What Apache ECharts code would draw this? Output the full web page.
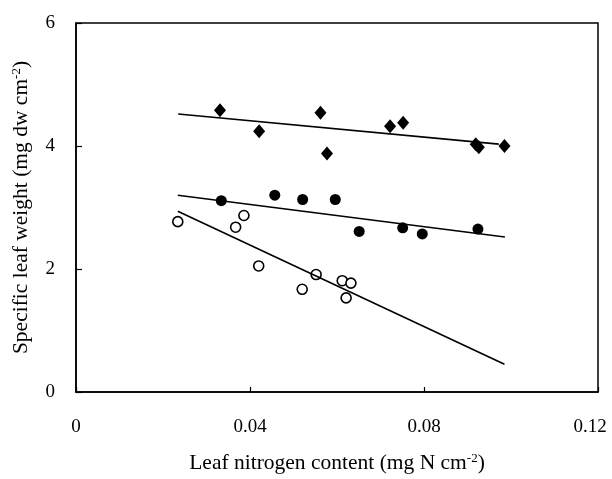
<!DOCTYPE html>
<html>
<head>
<meta charset="utf-8">
<script src="https://cdn.jsdelivr.net/npm/echarts@6/dist/echarts.min.js"></script>
<style>
  html, body { margin: 0; padding: 0; background: #fff; }
  #main { width: 612px; height: 479px; }
</style>
</head>
<body>
<div id="main"></div>
<script>
// data
var diamondX = [0.0331, 0.0421, 0.0562, 0.0577, 0.0722, 0.0752, 0.0919, 0.0926, 0.0985];
var diamondY = [4.58, 4.24, 4.54, 3.88, 4.32, 4.38, 4.03, 3.98, 4.00];
var filledX = [0.0334, 0.0457, 0.0521, 0.0596, 0.0651, 0.0751, 0.0796, 0.0924];
var filledY = [3.11, 3.20, 3.13, 3.13, 2.61, 2.67, 2.57, 2.65];
var openX = [0.0234, 0.0367, 0.0386, 0.0420, 0.0520, 0.0552, 0.0612, 0.0632, 0.0621];
var openY = [2.77, 2.68, 2.87, 2.05, 1.67, 1.91, 1.81, 1.77, 1.53];
// regression lines (start, end)
var diamondFit = [[0.0235, 4.52], [0.0972, 4.03]];
var filledFit = [[0.0234, 3.20], [0.0986, 2.52]];
var openFit = [[0.0234, 2.94], [0.0985, 0.45]];
var xTicks = ["0", "0.04", "0.08", "0.12"];

function pairs(xs, ys) {
  return xs.map(function (x, i) { return [x, ys[i]]; });
}

var font = "Liberation Serif";
var supStyle = { fontSize: 13, fontFamily: font, color: "#000", verticalAlign: "bottom", padding: [0, 0, 9, 0] };

var option = {
  animation: false,
  backgroundColor: "#fff",
  grid: {
    left: 76, right: 14, top: 23, bottom: 87,
    show: true, borderColor: "#000", borderWidth: 1.5
  },
  xAxis: {
    type: "value",
    min: 0, max: 0.12, interval: 0.04,
    name: "Leaf nitrogen content (mg N cm{sup|-2})",
    nameLocation: "middle",
    nameGap: 60,
    nameTextStyle: { fontFamily: font, fontSize: 21.5, color: "#000", rich: { sup: supStyle } },
    axisLine: { lineStyle: { color: "#000", width: 1.5 } },
    axisTick: { inside: true, length: 5, lineStyle: { color: "#000", width: 1.2 } },
    axisLabel: {
      margin: 26, fontFamily: font, fontSize: 19, color: "#000",
      formatter: function (v) {
        var i = Math.round(v / 0.04);
        if (i === 3) return "{r|" + xTicks[i] + "}";
        return xTicks[i] || "";
      },
      rich: { r: { fontFamily: font, fontSize: 19, color: "#000", padding: [0, 16, 0, 0] } }
    },
    splitLine: { show: false }
  },
  yAxis: {
    type: "value",
    min: 0, max: 6, interval: 2,
    name: "Specific leaf weight (mg dw cm{sup|-2})",
    nameLocation: "middle",
    nameGap: 44,
    nameRotate: 90,
    nameTextStyle: { fontFamily: font, fontSize: 21.5, color: "#000", rich: { sup: supStyle } },
    axisLine: { lineStyle: { color: "#000", width: 1.5 } },
    axisTick: { inside: true, length: 6, lineStyle: { color: "#000", width: 1.2 } },
    axisLabel: { margin: 21, fontFamily: font, fontSize: 19, color: "#000" },
    splitLine: { show: false }
  },
  series: [
    {
      type: "line", data: diamondFit, showSymbol: false, silent: true,
      lineStyle: { color: "#000", width: 1.6 }
    },
    {
      type: "line", data: filledFit, showSymbol: false, silent: true,
      lineStyle: { color: "#000", width: 1.6 }
    },
    {
      type: "line", data: openFit, showSymbol: false, silent: true,
      lineStyle: { color: "#000", width: 1.6 }
    },
    {
      type: "scatter", data: pairs(diamondX, diamondY),
      symbol: "diamond", symbolSize: [12, 14],
      itemStyle: { color: "#000", opacity: 1 }
    },
    {
      type: "scatter", data: pairs(filledX, filledY),
      symbol: "circle", symbolSize: 11,
      itemStyle: { color: "#000", opacity: 1 }
    },
    {
      type: "scatter", data: pairs(openX, openY),
      symbol: "circle", symbolSize: 10,
      itemStyle: { color: "#fff", borderColor: "#000", borderWidth: 1.6, opacity: 1 }
    }
  ]
};

var chart = echarts.init(document.getElementById("main"), null, { renderer: "canvas" });
chart.setOption(option);
</script>
</body>
</html>
